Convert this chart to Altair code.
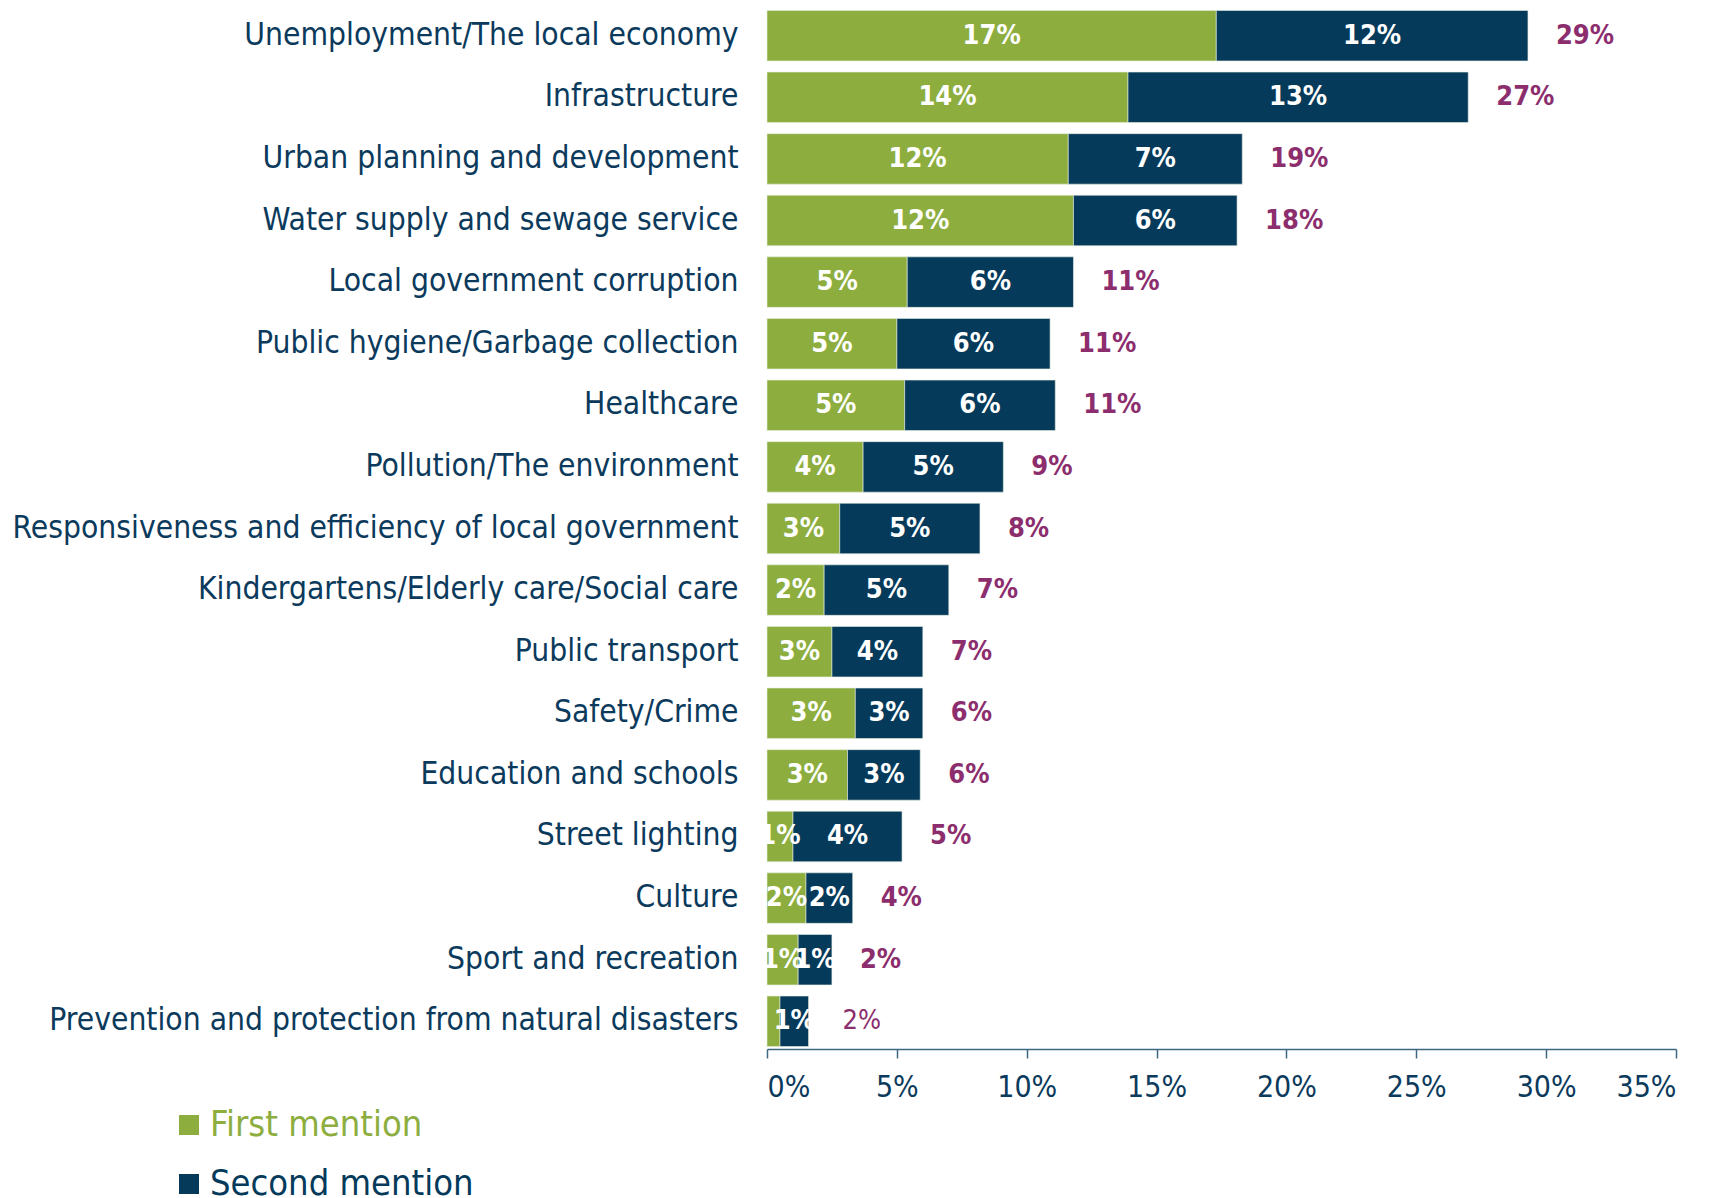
import altair as alt
import pandas as pd

categories = [
    "Unemployment/The local economy",
    "Infrastructure",
    "Urban planning and development",
    "Water supply and sewage service",
    "Local government corruption",
    "Public hygiene/Garbage collection",
    "Healthcare",
    "Pollution/The environment",
    "Responsiveness and efficiency of local government",
    "Kindergartens/Elderly care/Social care",
    "Public transport",
    "Safety/Crime",
    "Education and schools",
    "Street lighting",
    "Culture",
    "Sport and recreation",
    "Prevention and protection from natural disasters",
]
first = [17.3, 13.9, 11.6, 11.8, 5.4, 5.0, 5.3, 3.7, 2.8, 2.2, 2.5, 3.4, 3.1, 1.0, 1.5, 1.2, 0.5]
second = [12.0, 13.1, 6.7, 6.3, 6.4, 5.9, 5.8, 5.4, 5.4, 4.8, 3.5, 2.6, 2.8, 4.2, 1.8, 1.3, 1.1]
first_labels = ["17%", "14%", "12%", "12%", "5%", "5%", "5%", "4%", "3%", "2%", "3%", "3%", "3%", "1%", "2%", "1%", ""]
second_labels = ["12%", "13%", "7%", "6%", "6%", "6%", "6%", "5%", "5%", "5%", "4%", "3%", "3%", "4%", "2%", "1%", "1%"]
total_labels = ["29%", "27%", "19%", "18%", "11%", "11%", "11%", "9%", "8%", "7%", "7%", "6%", "6%", "5%", "4%", "2%", "2%"]
series = ["First mention", "Second mention"]

GREEN = "#8DAE3F"
NAVY = "#053A5B"
PURPLE = "#8C2D6D"
TEXT = "#0B3A5C"
FONT = "DejaVu Sans Condensed, Liberation Sans Narrow, DejaVu Sans, sans-serif"

rows = []
for i, c in enumerate(categories):
    rows.append({"category": c, "series": series[0], "start": 0.0, "end": first[i],
                 "mid": first[i] / 2, "label": first_labels[i]})
    rows.append({"category": c, "series": series[1], "start": first[i], "end": first[i] + second[i],
                 "mid": first[i] + second[i] / 2, "label": second_labels[i]})
df = pd.DataFrame(rows)
tot = pd.DataFrame({"category": categories,
                    "total": [a + b for a, b in zip(first, second)],
                    "label": total_labels})

yenc = alt.Y("category:N", sort=categories, title=None,
             scale=alt.Scale(paddingInner=0.18, paddingOuter=0.04),
             axis=alt.Axis(ticks=False, domain=False, labelFontSize=31.5, labelColor=TEXT,
                           labelFont=FONT, labelPadding=29, labelLimit=0))
xscale = alt.Scale(domain=[0, 35], nice=False)

bars = alt.Chart(df).mark_bar(stroke="#e8efe0", strokeWidth=0.6).encode(
    x=alt.X("start:Q", scale=xscale, title=None,
            axis=alt.Axis(values=[0, 5, 10, 15, 20, 25, 30, 35], labelExpr="datum.value + '%'",
                          grid=False, domainColor="#3C6782", tickColor="#3C6782", tickSize=9,
                          domainWidth=1.5, tickWidth=1.5,
                          labelFontSize=30, labelColor=TEXT, labelFont=FONT, labelPadding=14)),
    x2="end:Q",
    y=yenc,
    color=alt.Color("series:N", scale=alt.Scale(domain=series, range=[GREEN, NAVY]),
                    legend=alt.Legend(title=None, orient="none", legendX=-596, legendY=1099,
                                      symbolType="square", symbolSize=400, symbolStrokeWidth=0,
                                      labelFontSize=36, labelFont=FONT, labelOffset=3,
                                      rowPadding=23, labelLimit=0,
                                      labelColor={"expr": f"datum.value == 'First mention' ? '{GREEN}' : '{NAVY}'"})),
)

inner = alt.Chart(df).mark_text(color="white", fontSize=27, fontWeight="bold", font=FONT,
                                align="center", baseline="middle").encode(
    x=alt.X("mid:Q", scale=xscale), y=alt.Y("category:N", sort=categories), text="label:N")

tot_bold = alt.Chart(tot).transform_filter(
    f"datum.category != '{categories[-1]}'").mark_text(
    color=PURPLE, fontSize=27, fontWeight="bold", font=FONT, align="left", baseline="middle", dx=28
).encode(x=alt.X("total:Q", scale=xscale), y=alt.Y("category:N", sort=categories), text="label:N")

tot_norm = alt.Chart(tot).transform_filter(
    f"datum.category == '{categories[-1]}'").mark_text(
    color=PURPLE, fontSize=27, fontWeight="normal", font=FONT, align="left", baseline="middle", dx=34
).encode(x=alt.X("total:Q", scale=xscale), y=alt.Y("category:N", sort=categories), text="label:N")

chart = alt.layer(bars, inner, tot_bold, tot_norm).properties(
    width=909, height=1041,
    autosize=alt.AutoSizeParams(type="none"),
    padding={"left": 759, "top": 0, "right": 30, "bottom": 170},
).configure_view(stroke=None)

chart.save("out.html", embed_options={"renderer": "svg", "actions": False})
